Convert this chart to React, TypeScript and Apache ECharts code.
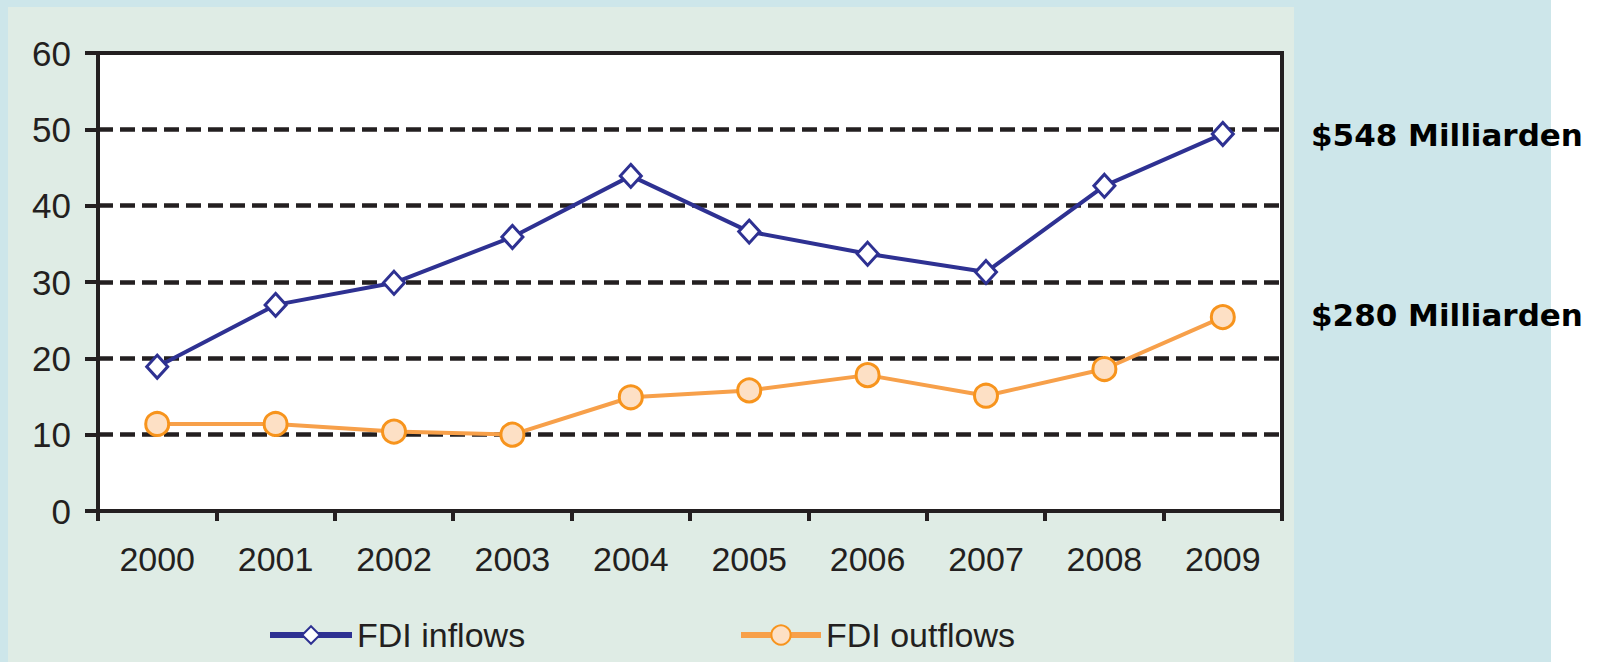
import React, { useEffect, useRef } from "react";
import * as echarts from "echarts";

const years = ["2000", "2001", "2002", "2003", "2004", "2005", "2006", "2007", "2008", "2009"];
const fdiInflows = [18.9, 27.0, 29.9, 35.9, 43.9, 36.6, 33.7, 31.3, 42.6, 49.4];
const fdiOutflows = [11.4, 11.4, 10.4, 10.0, 14.9, 15.8, 17.8, 15.1, 18.6, 25.4];
const seriesNames = ["FDI inflows", "FDI outflows"];
const sideLabels = ["$548 Milliarden", "$280 Milliarden"];
const sideLabelValues = [49.4, 25.4];

export default function App() {
  const ref = useRef<HTMLDivElement>(null);
  useEffect(() => {
    if (!ref.current) return;
    const chart = echarts.init(ref.current, null, { renderer: "svg" });
    const ink = "#231f20";
    const navy = "#2e3192";
    const orange = "#f7a04a";
    const gridTop = 53;
    const gridBottomY = 511;
    const yOf = (v: number) => gridBottomY - (v / 60) * (gridBottomY - gridTop);
    const legendText = { fontSize: 34, color: ink, fontFamily: "'Liberation Sans', Arial, sans-serif" };
    chart.setOption({
      animation: false,
      backgroundColor: "#ffffff",
      textStyle: { fontFamily: "'Liberation Sans', Arial, sans-serif" },
      graphic: [
        { type: "rect", z: -100, silent: true, shape: { x: 0, y: 0, width: 1551, height: 662 }, style: { fill: "#cde6ea" } },
        { type: "rect", z: -99, silent: true, shape: { x: 8, y: 7, width: 1286, height: 655 }, style: { fill: "#dfece5" } },
        ...sideLabels.map((t, i) => ({
          type: "text",
          x: 1311,
          y: yOf(sideLabelValues[i]) + (i === 0 ? 1 : -2),
          style: {
            text: t,
            fill: "#000",
            font: "bold 31px 'DejaVu Sans', Verdana, sans-serif",
            verticalAlign: "middle",
            align: "left",
          },
        })),
      ],
      grid: {
        left: 98,
        right: 324,
        top: gridTop,
        bottom: 662 - gridBottomY,
        show: true,
        backgroundColor: "#ffffff",
        borderColor: ink,
        borderWidth: 4,
        containLabel: false,
      },
      legend: [
        {
          data: [seriesNames[0]],
          left: 262,
          top: 613,
          itemWidth: 82,
          itemHeight: 22,
          itemGap: 0,
          lineStyle: { width: 6 },
          textStyle: legendText,
        },
        {
          data: [seriesNames[1]],
          left: 733,
          top: 613,
          itemWidth: 80,
          itemHeight: 24,
          itemGap: 0,
          lineStyle: { width: 6 },
          textStyle: legendText,
        },
      ],
      xAxis: {
        type: "category",
        data: years,
        boundaryGap: true,
        axisLine: { show: true, lineStyle: { color: ink, width: 4 } },
        axisTick: { show: true, length: 10, interval: 0, lineStyle: { color: ink, width: 4 } },
        axisLabel: { fontSize: 34, color: ink, margin: 31, interval: 0 },
        splitLine: { show: false },
      },
      yAxis: {
        type: "value",
        min: 0,
        max: 60,
        interval: 10,
        axisLine: { show: true, lineStyle: { color: ink, width: 4 } },
        axisTick: { show: true, length: 13, lineStyle: { color: ink, width: 4 } },
        axisLabel: { fontSize: 35, color: ink, margin: 27 },
        splitLine: {
          show: true,
          showMinLine: false,
          showMaxLine: false,
          lineStyle: { color: ink, width: 4.5, type: [15, 7] },
        },
      },
      series: [
        {
          name: seriesNames[0],
          type: "line",
          data: fdiInflows,
          symbol: "diamond",
          symbolSize: [21, 23],
          showAllSymbol: true,
          lineStyle: { color: navy, width: 4 },
          itemStyle: { color: "#ffffff", borderColor: navy, borderWidth: 3 },
          z: 3,
        },
        {
          name: seriesNames[1],
          type: "line",
          data: fdiOutflows,
          symbol: "circle",
          symbolSize: 23,
          showAllSymbol: true,
          lineStyle: { color: orange, width: 4 },
          itemStyle: { color: "#fde0c5", borderColor: "#f7941d", borderWidth: 3 },
          z: 2,
        },
      ],
    });
    return () => chart.dispose();
  }, []);
  return (
    <div
      ref={ref}
      style={{ position: "absolute", left: 0, top: 0, width: 1606, height: 662 }}
    />
  );
}
